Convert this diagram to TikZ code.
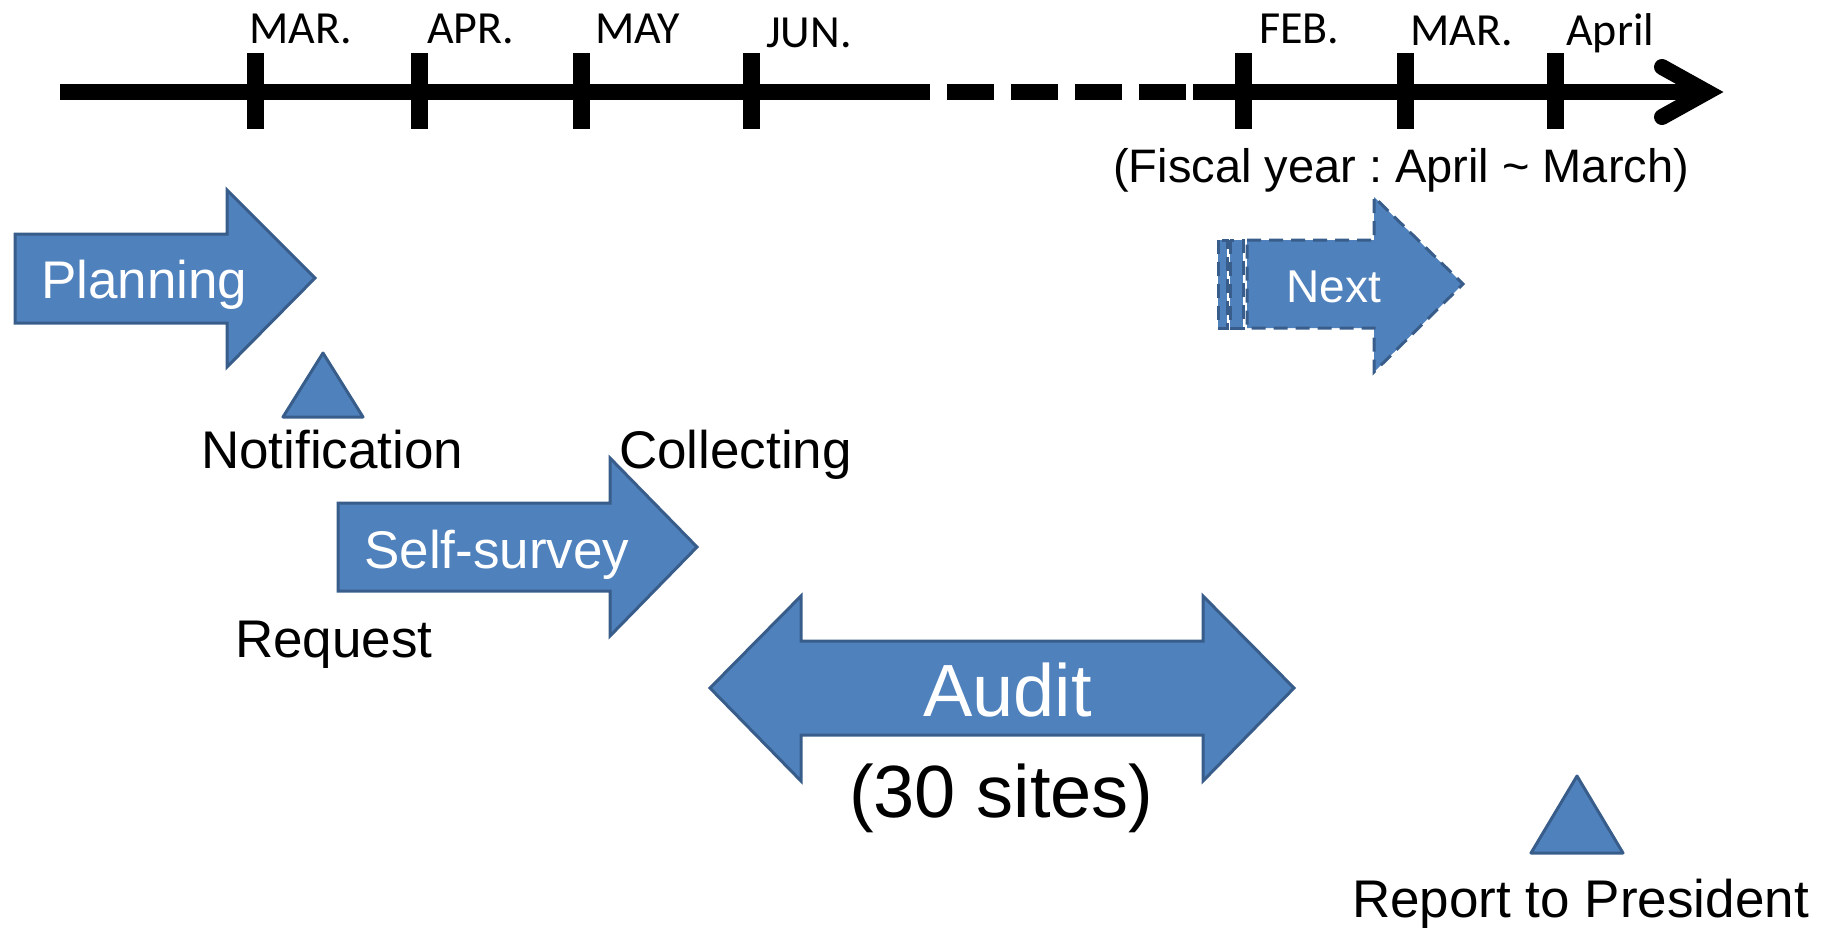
\documentclass[tikz,border=0pt]{standalone}
\usepackage{fontspec}
\setmainfont{Liberation Sans}
\newfontfamily\monthfont{Carlito}
\definecolor{boxfill}{HTML}{4F81BD}
\definecolor{boxline}{HTML}{385D8A}
\frenchspacing
\tikzset{
  blockarrow/.style={fill=boxfill,draw=boxline,line width=3pt,line join=miter},
  nextarrow/.style={blockarrow,dash pattern=on 14pt off 8pt},
  marker/.style={fill=boxfill,draw=boxline,line width=3pt,line join=round},
  axis/.style={line width=16pt},
  month/.style={anchor=base west,inner sep=0,font=\monthfont\fontsize{46}{50}\selectfont},
  lbl/.style={anchor=base west,inner sep=0,font=\fontsize{53}{60}\selectfont},
  inlbl/.style={lbl,text=white},
  hugelbl/.style={anchor=base west,inner sep=0,font=\fontsize{74}{80}\selectfont}
}
\begin{document}
\begin{tikzpicture}[x=1pt,y=-1pt]
  \useasboundingbox (0,0) rectangle (1827,927);

  \draw[axis] (60,92) coordinate (axstart) -- (883,92);
  \draw[axis,dash pattern=on 47pt off 17pt] (883,92) -- (1188,92);
  \draw[axis] (1193,92) -- (1707,92) coordinate (axend);
  \draw[axis,line cap=round] (axend) ++(-45,-25) -- (axend) -- ++(-45,25);
  \foreach \x/\lx/\by/\m [count=\i] in {255/249/43/MAR.,419/427/43/APR.,
      581/595/43/MAY,751/766/47/JUN.,1243/1259/43/FEB.,1405/1410/45/MAR.,
      1555/1566/45/April}{
    \draw[line width=17pt] (\x,53) -- (\x,129);
    \node[month] (mon\i) at (\lx,\by) {\m};
  }
  \node[anchor=base west,inner sep=0,font=\fontsize{47}{52}\selectfont]
    (fiscal) at (1113,182) {(Fiscal year : April \textasciitilde{} March)};

  \draw[blockarrow] (15,234) -- ++(212,0) -- ++(0,-44) -- ++(88,88)
    -- ++(-88,89) -- ++(0,-44) -- ++(-212,0) -- cycle;
  \node[inlbl] (plan) at (41,298) {Planning};
  \draw[marker] (323,353) -- (363,417) -- (283,417) -- cycle;
  \node[lbl] (notif) at (201,468) {Notification};
  \node[lbl] (collect) at (619,468) {Collecting};

  \draw[blockarrow] (338,503) -- ++(272,0) -- ++(0,-45) -- ++(87,89)
    -- ++(-87,89) -- ++(0,-45) -- ++(-272,0) -- cycle;
  \node[inlbl] (survey) at (364,568) {Self-survey};
  \node[lbl] (request) at (235,657) {Request};

  \draw[blockarrow] (710,688) -- ++(91,-92) -- ++(0,45) -- ++(402,0)
    -- ++(0,-45) -- ++(91,92) -- ++(-91,93) -- ++(0,-46) -- ++(-402,0)
    -- ++(0,46) -- cycle;
  \node[hugelbl,text=white] (audit) at (923,716) {Audit};
  \node[hugelbl] (sites) at (849,817) {(30 sites)};

  \draw[nextarrow] (1218,240) rectangle (1227,328);
  \draw[nextarrow] (1230,240) rectangle (1243,328);
  \draw[nextarrow] (1247,240) -- ++(127,0) -- ++(0,-43) -- ++(89,87)
    -- ++(-89,88) -- ++(0,-44) -- ++(-127,0) -- cycle;
  \node[anchor=base west,inner sep=0,text=white,font=\fontsize{46}{50}\selectfont]
    (nxt) at (1286,302) {Next};

  \draw[marker] (1577,776) -- (1623,853) -- (1531,853) -- cycle;
  \node[lbl] (report) at (1352,917) {Report to President};
\end{tikzpicture}
\end{document}
